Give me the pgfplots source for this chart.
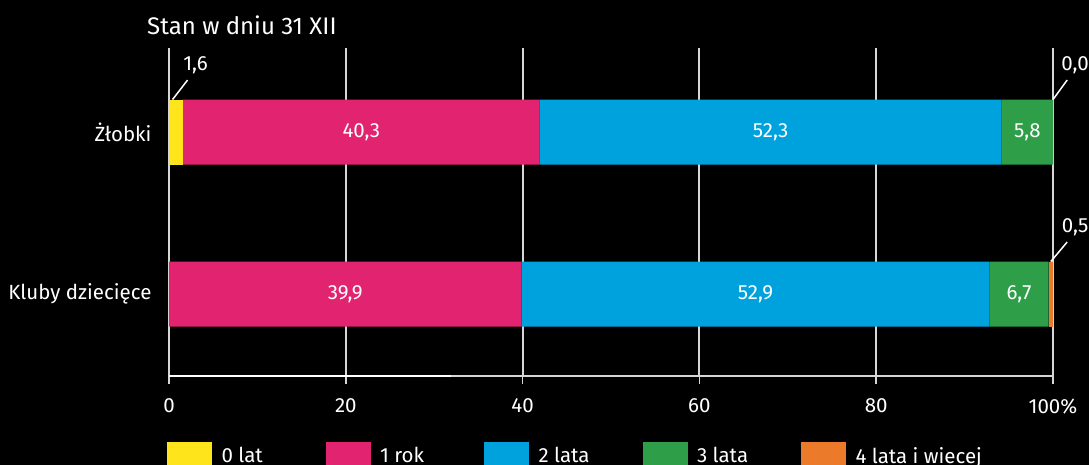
\documentclass[border=0pt]{standalone}
\usepackage{fontspec}
\setmainfont{Fira Sans}
\usepackage{pgfplots}
\pgfplotsset{compat=1.18}
\definecolor{c0}{HTML}{FDE41B}
\definecolor{c1}{HTML}{E2236F}
\definecolor{c2}{HTML}{00A2DD}
\definecolor{c3}{HTML}{2E9E48}
\definecolor{c4}{HTML}{EC7A2B}
\definecolor{gridc}{HTML}{D6D6D6}
\tikzset{lbl/.style={text=white, font=\fontsize{20.5}{24}\selectfont}}
\begin{document}
\begin{tikzpicture}[x=1pt,y=1pt]
\fill[black] (0,0) rectangle (1089,465);
\useasboundingbox (0,0) rectangle (1089,465);
\node[anchor=west,text=white,font=\fontsize{24}{28}\selectfont,inner sep=0pt] at (147,440) {Stan w dniu 31 XII};
\begin{axis}[
  at={(169pt,89pt)}, anchor=south west,
  scale only axis, width=884pt, height=328pt,
  xbar stacked, bar width=65pt,
  xmin=0, xmax=100, ymin=-0.506, ymax=1.519,
  clip=false,
  axis x line*=bottom, axis y line*=left,
  y axis line style={draw=none},
  x axis line style={gridc, line width=1.5pt},
  ytick={0,1}, yticklabels={Kluby dziecięce, Żłobki},
  ytick style={draw=none},
  xtick={0,20,40,60,80,100}, xticklabels={0,20,40,60,80,100\%},
  xtick align=outside, major tick length=8pt,
  xtick style={gridc, line width=1.5pt},
  xmajorgrids, grid style={gridc, line width=2pt},
  /pgf/number format/assume math mode=true,
  ticklabel style={text=white, font=\fontsize{20.5}{24}\selectfont},
  xticklabel style={yshift=-11pt},
  yticklabel style={xshift=-14pt},
  legend columns=5,
  legend style={at={(-0.00226,-0.2012)}, anchor=north west, draw=none, fill=none,
    inner sep=0pt, outer sep=0pt, text=white, font=\fontsize{20.5}{24}\selectfont,
    /tikz/every odd column/.append style={column sep=7.5pt}},
  legend cell align=left,
  legend image code/.code={\fill[#1] (0pt,-12pt) rectangle (45pt,14pt);},
]
\addplot[fill=c0, draw=none] coordinates {(0,0) (1.6,1)};
\addlegendentry{\makebox[102pt][l]{0 lat}}
\addplot[fill=c1, draw=none] coordinates {(39.9,0) (40.3,1)};
\addlegendentry{\makebox[102pt][l]{1 rok}}
\addplot[fill=c2, draw=none] coordinates {(52.9,0) (52.3,1)};
\addlegendentry{\makebox[102pt][l]{2 lata}}
\addplot[fill=c3, draw=none] coordinates {(6.7,0) (5.8,1)};
\addlegendentry{\makebox[102pt][l]{3 lata}}
\addplot[fill=c4, draw=none] coordinates {(0.5,0) (0.0,1)};
\addlegendentry{\makebox[102pt][l]{4 lata i wiecej}}
\coordinate (a1) at (axis cs:21.75,1);
\coordinate (a2) at (axis cs:68.05,1);
\coordinate (a3) at (axis cs:97.1,1);
\coordinate (b1) at (axis cs:19.95,0);
\coordinate (b2) at (axis cs:66.35,0);
\coordinate (b3) at (axis cs:96.15,0);
\coordinate (o1) at (axis cs:3.0,1.41);
\coordinate (o2) at (axis cs:102.5,1.41);
\coordinate (o3) at (axis cs:102.5,0.41);
\coordinate (p1s) at (axis cs:0.4,1.2006);
\coordinate (p1e) at (axis cs:2.1,1.321);
\coordinate (p2s) at (axis cs:100,1.2006);
\coordinate (p2e) at (axis cs:101.6,1.321);
\coordinate (p3s) at (axis cs:99.75,0.2006);
\coordinate (p3e) at (axis cs:101.6,0.321);
\coordinate (q1) at (axis cs:0,-0.506);
\coordinate (q2) at (axis cs:31.9,-0.506);
\end{axis}
\draw[white, line width=2.2pt] (q1) -- (q2);
\node[lbl] at (a1) {40,3};
\node[lbl] at (a2) {52,3};
\node[lbl] at (a3) {5,8};
\node[lbl] at (b1) {39,9};
\node[lbl] at (b2) {52,9};
\node[lbl] at (b3) {6,7};
\node[lbl] at (o1) {1,6};
\node[lbl] at (o2) {0,0};
\node[lbl] at (o3) {0,5};
\draw[white, line width=1.5pt] (p1s) -- (p1e);
\draw[white, line width=1.5pt] (p2s) -- (p2e);
\draw[white, line width=1.5pt] (p3s) -- (p3e);
\end{tikzpicture}
\end{document}
